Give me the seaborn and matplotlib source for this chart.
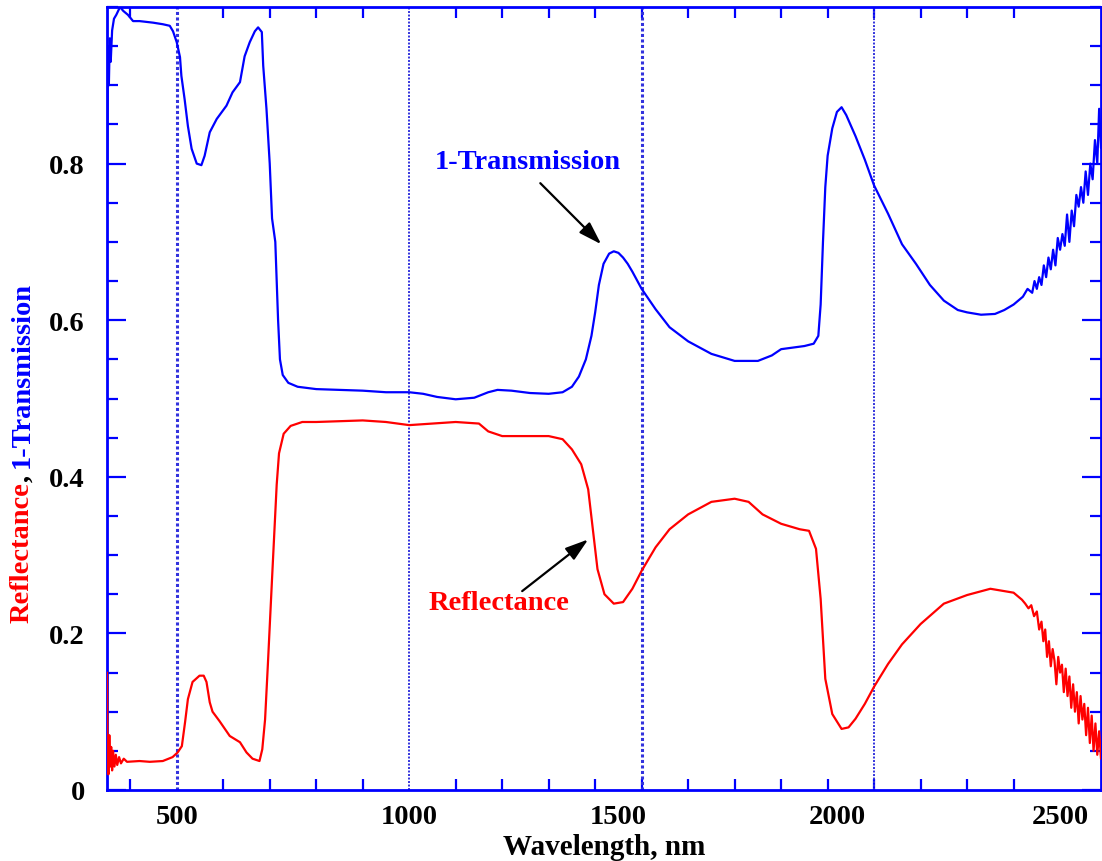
import numpy as np
import pandas as pd
import matplotlib
matplotlib.use('Agg')
import matplotlib.pyplot as plt
import seaborn as sns

# 1-Transmission (blue)
wl_trans = [350, 352, 354, 356, 358, 361, 365, 370, 378, 385, 395, 406, 420, 449, 470, 485,
            492, 500, 507, 510, 517, 524, 532, 543, 553, 560, 571, 586, 607, 620, 636, 646,
            657, 668, 675, 683, 686, 693, 700, 705, 712, 718, 722, 728, 740, 760, 800, 850,
            900, 950, 1000, 1030, 1060, 1100, 1140, 1170, 1190, 1220, 1260, 1300, 1330,
            1350, 1365, 1380, 1392, 1400, 1408, 1418, 1430, 1440, 1450, 1460, 1470, 1480,
            1500, 1530, 1560, 1600, 1650, 1700, 1750, 1780, 1800, 1850, 1870, 1880, 1885,
            1890, 1895, 1900, 1910, 1920, 1930, 1940, 1960, 1980, 2000, 2030, 2060, 2090,
            2120, 2150, 2180, 2200, 2230, 2260, 2280, 2300, 2320, 2330, 2340, 2345, 2350,
            2355, 2360, 2365, 2370, 2375, 2380, 2385, 2390, 2395, 2400, 2405, 2410, 2415,
            2420, 2425, 2430, 2435, 2440, 2445, 2450, 2455, 2460, 2465, 2470, 2475, 2480,
            2484, 2488]
trans = [0.76, 0.95, 0.90, 0.96, 0.93, 0.97, 0.985, 0.99, 1.0, 0.995, 0.99, 0.982, 0.982,
         0.98, 0.978, 0.976, 0.969, 0.955, 0.936, 0.912, 0.882, 0.848, 0.819, 0.80, 0.798,
         0.81, 0.84, 0.857, 0.874, 0.891, 0.904, 0.937, 0.955, 0.969, 0.974, 0.968, 0.925,
         0.87, 0.80, 0.73, 0.70, 0.60, 0.55, 0.53, 0.52, 0.515, 0.512, 0.511, 0.510, 0.508,
         0.508, 0.506, 0.502, 0.499, 0.501, 0.508, 0.511, 0.510, 0.507, 0.506, 0.508,
         0.515, 0.528, 0.55, 0.58, 0.61, 0.645, 0.672, 0.685, 0.688, 0.686, 0.68, 0.672,
         0.662, 0.64, 0.614, 0.591, 0.573, 0.557, 0.548, 0.548, 0.555, 0.563, 0.567,
         0.57, 0.58, 0.62, 0.70, 0.77, 0.81, 0.845, 0.866, 0.872, 0.862, 0.835, 0.805,
         0.772, 0.736, 0.697, 0.672, 0.645, 0.625, 0.613, 0.61, 0.607, 0.608, 0.613, 0.62,
         0.63, 0.64, 0.635, 0.65, 0.64, 0.655, 0.645, 0.67, 0.655, 0.68, 0.665, 0.69, 0.67,
         0.705, 0.69, 0.71, 0.695, 0.735, 0.70, 0.74, 0.72, 0.76, 0.745, 0.77, 0.75, 0.79,
         0.76, 0.80, 0.78, 0.83, 0.80, 0.87, 0.82]

# Reflectance (red)
wl_refl = [350, 351, 353, 355, 357, 359, 361, 363, 366, 369, 372, 376, 380, 386, 393, 420,
           442, 470, 491, 502, 511, 518, 524, 534, 549, 558, 564, 571, 577, 592, 614, 636,
           650, 663, 678, 684, 690, 696, 700, 705, 710, 715, 720, 730, 745, 770, 800, 900,
           950, 1000, 1050, 1100, 1150, 1170, 1200, 1250, 1300, 1330, 1350, 1370, 1385,
           1395, 1405, 1420, 1440, 1460, 1480, 1500, 1530, 1560, 1600, 1650, 1700, 1730,
           1760, 1800, 1840, 1860, 1875, 1885, 1895, 1910, 1930, 1945, 1960, 1980, 2000,
           2030, 2060, 2100, 2150, 2200, 2250, 2280, 2300, 2310, 2318, 2325, 2332, 2338,
           2344, 2350, 2355, 2360, 2364, 2368, 2372, 2376, 2380, 2384, 2388, 2392, 2396,
           2400, 2404, 2408, 2412, 2416, 2420, 2424, 2428, 2432, 2436, 2440, 2444, 2448,
           2452, 2456, 2460, 2464, 2468, 2472, 2476, 2480, 2484, 2488]
refl = [0.15, 0.06, 0.02, 0.07, 0.03, 0.055, 0.025, 0.05, 0.03, 0.045, 0.032, 0.042,
        0.034, 0.04, 0.036, 0.037, 0.036, 0.037, 0.042, 0.048, 0.056, 0.087, 0.116, 0.138,
        0.146, 0.146, 0.138, 0.112, 0.10, 0.088, 0.069, 0.061, 0.048, 0.04, 0.037, 0.052,
        0.09, 0.16, 0.21, 0.27, 0.33, 0.39, 0.43, 0.455, 0.465, 0.47, 0.47, 0.472, 0.47,
        0.466, 0.468, 0.47, 0.468, 0.458, 0.452, 0.452, 0.452, 0.448, 0.435, 0.416, 0.384,
        0.333, 0.282, 0.25, 0.238, 0.24, 0.257, 0.28, 0.31, 0.333, 0.352, 0.368, 0.372,
        0.368, 0.352, 0.34, 0.333, 0.331, 0.308, 0.244, 0.142, 0.097, 0.078, 0.08, 0.091,
        0.11, 0.132, 0.161, 0.186, 0.212, 0.238, 0.249, 0.257, 0.254, 0.252, 0.247,
        0.243, 0.238, 0.232, 0.236, 0.222, 0.228, 0.205, 0.215, 0.19, 0.205, 0.17, 0.19,
        0.158, 0.18, 0.165, 0.135, 0.17, 0.15, 0.16, 0.125, 0.155, 0.12, 0.145, 0.105,
        0.135, 0.10, 0.125, 0.085, 0.12, 0.09, 0.11, 0.07, 0.105, 0.06, 0.095, 0.05,
        0.085, 0.045, 0.075, 0.04]

detector_lines = [500, 1000, 1500, 2000]
xtick_pos = [500, 1000, 1450, 1920, 2400]
xtick_labels = ['500', '1000', '1500', '2000', '2500']
ytick_pos = [0, 0.2, 0.4, 0.6, 0.8]
ytick_labels = ['0', '0.2', '0.4', '0.6', '0.8']

df_t = pd.DataFrame({'wl': wl_trans, 'val': trans})
df_r = pd.DataFrame({'wl': wl_refl, 'val': refl})

sns.set_style('ticks')
plt.rcParams['font.family'] = ['Liberation Serif', 'DejaVu Serif']
plt.rcParams['font.weight'] = 'bold'
plt.rcParams['text.color'] = 'black'
plt.rcParams['axes.labelcolor'] = 'black'

fig = plt.figure(figsize=(11.02, 8.62), dpi=100)
ax = fig.add_axes([107 / 1102, 71 / 862, 994 / 1102, 783 / 862])

for xv in detector_lines:
    ax.axvline(xv, color='#3333dd', lw=2.2 if xv in (500, 1500) else 1.4, ls=(0, (1, 0.8)), zorder=1)

sns.lineplot(data=df_t, x='wl', y='val', color='#0000ff', lw=1.6, estimator=None, sort=False, ax=ax, zorder=3)
sns.lineplot(data=df_r, x='wl', y='val', color='#ff0000', lw=1.6, estimator=None, sort=False, ax=ax, zorder=3)

ax.set_xlim(350, 2488)
ax.set_ylim(0, 1.0)

ax.set_xticks(xtick_pos)
ax.set_xticklabels(xtick_labels)
ax.set_xticks(np.arange(400, 2401, 100), minor=True)
ax.set_yticks(ytick_pos)
ax.set_yticklabels(ytick_labels)
ax.set_yticks(np.arange(0, 1.001, 0.05), minor=True)

ax.tick_params(axis='x', which='major', length=0, pad=10, labelsize=20.5, labelcolor='black')
ax.tick_params(axis='x', which='minor', direction='in', length=8, width=1.6, color='#0000ff', top=True, bottom=True)
ax.tick_params(axis='y', which='major', direction='in', length=14, width=1.6, color='#0000ff',
               left=True, right=True, pad=16, labelsize=20.5, labelcolor='black')
ax.tick_params(axis='y', which='minor', direction='in', length=8, width=1.6, color='#0000ff', left=True, right=True)
for lab in ax.get_xticklabels() + ax.get_yticklabels():
    lab.set_fontweight('bold')

for sp in ax.spines.values():
    sp.set_color('#0000ff')
    sp.set_linewidth(2)
    sp.set_visible(True)

ax.set_xlabel('Wavelength, nm', fontsize=21, fontweight='bold', color='black', labelpad=3)
ax.set_ylabel('')

arrow = dict(arrowstyle='-|>,head_length=1.4,head_width=0.45', color='black', lw=1.6, shrinkA=0, shrinkB=0)
ax.annotate('', xy=(1413, 0.697), xytext=(1282, 0.775), arrowprops=arrow)
ax.text(1256, 0.803, '1-Transmission', color='#0000ff', fontsize=20.5, fontweight='bold', ha='center', va='center')
ax.annotate('', xy=(1385, 0.32), xytext=(1243, 0.254), arrowprops=arrow)
ax.text(1194, 0.239, 'Reflectance', color='#ff0000', fontsize=20.5, fontweight='bold', ha='center', va='center')

# two-colour y label
fig.canvas.draw()
renderer = fig.canvas.get_renderer()
y_cur = (862 - 623) / 862
for txt, col in [('Reflectance', '#ff0000'), (', ', 'black'), ('1-Transmission', '#0000ff')]:
    t = fig.text(22 / 1102, y_cur, txt, color=col, rotation=90, rotation_mode='anchor',
                 ha='left', va='center', fontsize=20.5, fontweight='bold')
    bb = t.get_window_extent(renderer=renderer)
    y_cur += bb.height / fig.bbox.height

fig.savefig('out.png', dpi=100)
